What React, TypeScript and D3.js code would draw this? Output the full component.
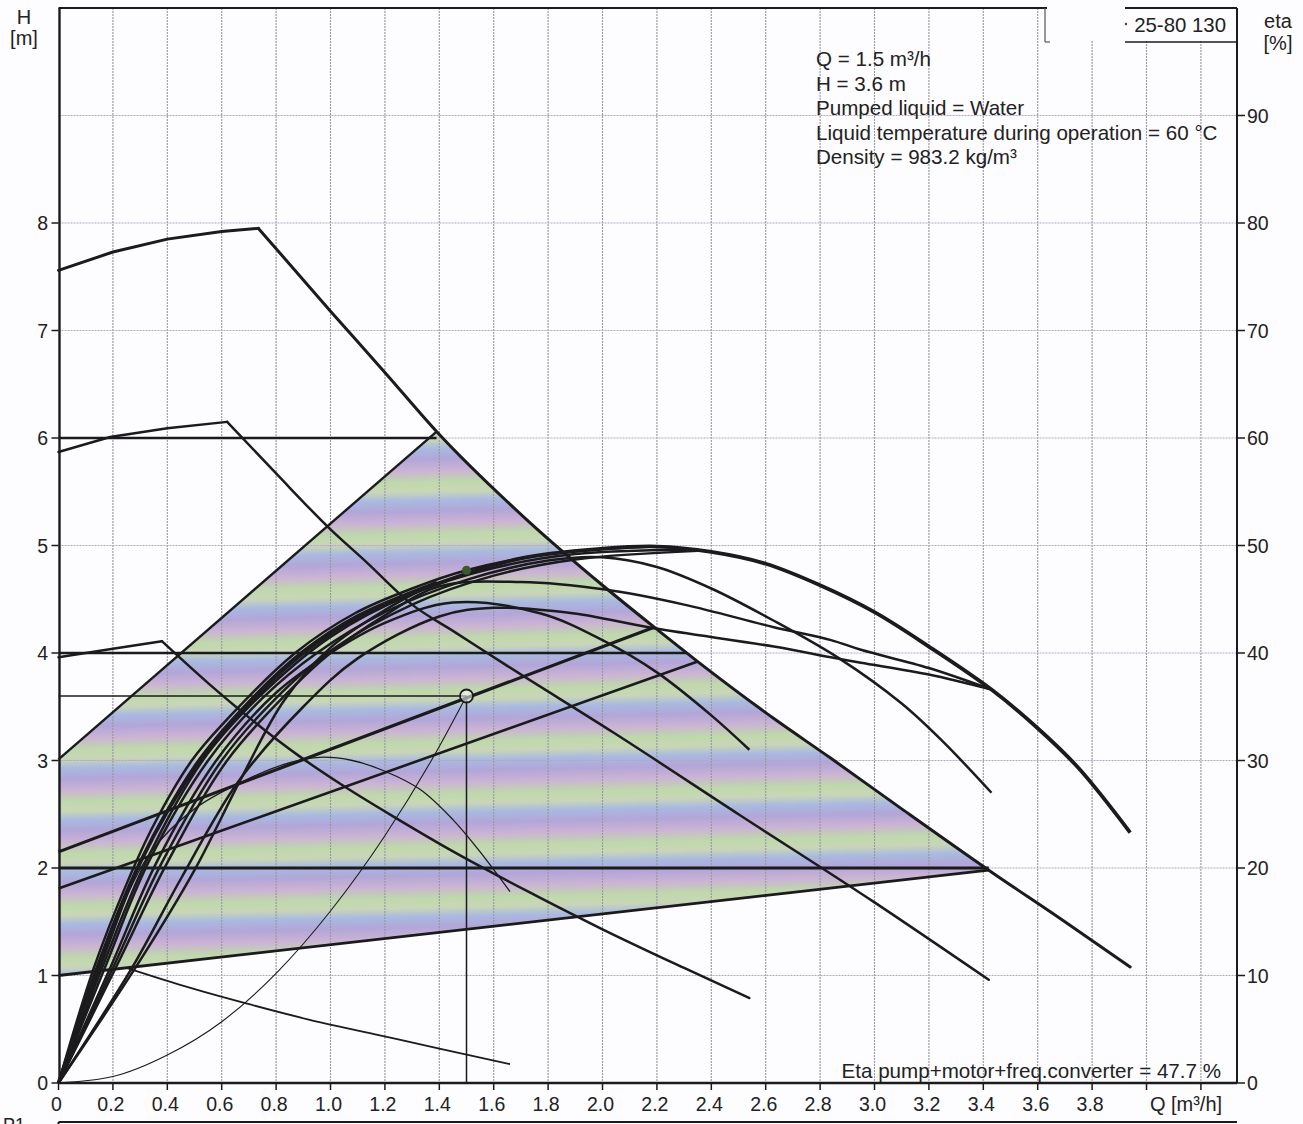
import React from "react";
import * as d3 from "d3";

type Pt = [number, number];

// axes
const qTicks = [0, 0.2, 0.4, 0.6, 0.8, 1.0, 1.2, 1.4, 1.6, 1.8, 2.0, 2.2, 2.4, 2.6, 2.8, 3.0, 3.2, 3.4, 3.6, 3.8];
const qGrid = [0.2, 0.4, 0.6, 0.8, 1.0, 1.2, 1.4, 1.6, 1.8, 2.0, 2.2, 2.4, 2.6, 2.8, 3.0, 3.2, 3.4, 3.6, 3.8, 4.0, 4.2];
const qExtraTicks = [4.0, 4.2];
const hTicks = [0, 1, 2, 3, 4, 5, 6, 7, 8];
const hGrid = [1, 2, 3, 4, 5, 6, 7, 8, 9];
const etaTicks = [0, 10, 20, 30, 40, 50, 60, 70, 80, 90];

const infoLines = [
  "Q = 1.5 m³/h",
  "H = 3.6 m",
  "Pumped liquid = Water",
  "Liquid temperature during operation = 60 °C",
  "Density = 983.2 kg/m³",
];

// QH curves [Q m3/h, H m] - rising part up to the kink, then falling part
const qhMaxRise: Pt[] = [[0, 7.56], [0.2, 7.73], [0.4, 7.85], [0.6, 7.92], [0.735, 7.95]];
const qhMaxFall: Pt[] = [[0.735, 7.95], [1.0, 7.18], [1.2, 6.61], [1.39, 6.06], [1.73, 5.22], [2.0, 4.63], [2.19, 4.24], [2.35, 3.92], [2.63, 3.39], [2.84, 3.02], [3.1, 2.55], [3.42, 1.98], [3.7, 1.5], [3.94, 1.08]];
const qhMidRise: Pt[] = [[0, 5.87], [0.19, 6.01], [0.4, 6.09], [0.62, 6.15]];
const qhMidFall: Pt[] = [[0.62, 6.15], [0.8, 5.67], [1.0, 5.15], [1.13, 4.85], [1.3, 4.45], [1.46, 4.19], [1.65, 3.88], [2.04, 3.26], [2.5, 2.5], [3.0, 1.68], [3.42, 0.96]];
const qhLowRise: Pt[] = [[0, 3.96], [0.2, 4.04], [0.38, 4.11]];
const qhLowFall: Pt[] = [[0.38, 4.11], [0.55, 3.72], [0.71, 3.38], [0.88, 3.05], [1.05, 2.76], [1.25, 2.45], [1.46, 2.14], [1.75, 1.75], [2.0, 1.43], [2.3, 1.07], [2.54, 0.79]];
const qhMin: Pt[] = [[0.25, 1.07], [0.45, 0.91], [0.69, 0.74], [0.92, 0.59], [1.16, 0.455], [1.4, 0.32], [1.66, 0.175]];
const systemCurve: Pt[] = [[0, 0], [0.2, 0.06], [0.4, 0.26], [0.6, 0.57], [0.8, 1.02], [1.0, 1.6], [1.2, 2.3], [1.4, 3.13], [1.5, 3.6]];

// constant / proportional pressure lines
const cp6: Pt[] = [[0, 6.0], [1.39, 6.0]];
const cp4: Pt[] = [[0, 4.0], [2.31, 4.0]];
const cp2: Pt[] = [[0, 2.0], [3.42, 2.0]];
const ppTop: Pt[] = [[0, 3.01], [1.39, 6.06]];
const ppMid: Pt[] = [[0, 2.15], [2.19, 4.24]];
const ppLow: Pt[] = [[0, 1.81], [2.35, 3.92]];
const ppBottom: Pt[] = [[0, 1.0], [3.42, 1.98]];

// efficiency curves [Q, eta %]
const etaMax: Pt[] = [[0, 0], [0.15, 10.7], [0.3, 20.5], [0.52, 30], [0.7, 35.3], [0.9, 40], [1.1, 43.3], [1.4, 46.5], [1.7, 48.8], [2.0, 49.7], [2.2, 49.9], [2.4, 49.4], [2.6, 48.3], [2.8, 46.3], [3.0, 43.8], [3.2, 40.6], [3.43, 36.6], [3.6, 33.0], [3.75, 29.3], [3.94, 23.3]];
const etaMid: Pt[] = [[0, 0], [0.17, 10.7], [0.33, 20.5], [0.55, 30], [0.75, 35.8], [0.95, 40], [1.2, 43.8], [1.5, 46.8], [1.8, 48.6], [2.0, 48.9], [2.2, 48], [2.4, 46], [2.63, 43], [2.87, 39.5], [3.1, 35.3], [3.25, 31.8], [3.43, 27]];
const etaLow: Pt[] = [[0, 0], [0.19, 10.7], [0.36, 20.5], [0.58, 30], [0.8, 36.3], [1.0, 40], [1.2, 42.8], [1.45, 44.7], [1.77, 43.7], [2.0, 41.2], [2.2, 38.2], [2.4, 34.2], [2.54, 31]];
const etaMin: Pt[] = [[0, 0], [0.1, 8], [0.2, 14.5], [0.34, 21.5], [0.5, 25.5], [0.69, 28.2], [0.85, 29.8], [0.96, 30.3], [1.08, 30], [1.2, 29], [1.33, 27.3], [1.45, 24.5], [1.55, 21.5], [1.66, 17.8]];
const etaCp2: Pt[] = [[0, 0], [0.21, 10.7], [0.4, 20.5], [0.62, 30], [0.85, 36.5], [1.0, 40], [1.2, 43.5], [1.4, 46.2], [1.7, 46.6], [2.01, 45.9], [2.3, 44.5], [2.63, 42.4], [2.84, 41.2], [2.95, 40.3], [3.2, 38.6], [3.43, 36.6]];
const etaPpBottom: Pt[] = [[0, 0], [0.27, 10.7], [0.45, 19], [0.66, 28], [0.9, 35], [1.1, 39.5], [1.4, 43.4], [1.6, 44.2], [1.89, 43.7], [2.19, 42.3], [2.63, 40.6], [2.84, 39.6], [2.95, 39.1], [3.2, 38], [3.43, 36.6]];
const etaCp4: Pt[] = [[0, 0], [0.16, 10.7], [0.32, 20.5], [0.53, 30], [0.72, 35.5], [1.0, 41.5], [1.3, 45.5], [1.6, 47.9], [1.9, 49.2], [2.31, 49.6]];
const etaPpLow: Pt[] = [[0, 0], [0.2, 10.7], [0.38, 20.5], [0.6, 30], [0.8, 35.8], [1.0, 40.2], [1.3, 44.5], [1.6, 47.2], [1.9, 48.7], [2.35, 49.5]];
const etaPpMid: Pt[] = [[0, 0], [0.13, 10.7], [0.25, 18.5], [0.35, 24], [0.49, 30], [0.6, 33.3], [0.87, 40], [1.09, 43.7], [1.3, 46], [1.5, 47.7], [1.8, 49.2], [2.19, 49.9]];
const etaCp6: Pt[] = [[0, 0], [0.3, 11.4], [0.5, 19.8], [0.675, 28.5], [0.83, 35.6], [1.0, 40.5], [1.2, 44], [1.39, 46.6]];
const etaPpTop: Pt[] = [[0, 0], [0.14, 10.7], [0.28, 19.5], [0.5, 29.5], [0.7, 35.5], [0.9, 40.2], [1.1, 43.5], [1.39, 46.6]];

const opQ = 1.5;
const opH = 3.6;
const opEta = 47.7;

const FONT = "'Liberation Sans', Arial, sans-serif";
const INK = "#1b1b1d";
const TXT = "#222";
const PAPER = "#fdfcfe";

export default function App() {
  const width = 1303;
  const height = 1124;
  const left = 58.5;
  const right = 1237;
  const top = 8;
  const bottom = 1083;

  const x = d3.scaleLinear().domain([0, (right - left) / 272]).range([left, right]);
  const y = d3.scaleLinear().domain([0, 10]).range([bottom, top]);
  const yEta = d3.scaleLinear().domain([0, 100]).range([bottom, top]);

  const lineH = d3.line<Pt>().x((d) => x(d[0])).y((d) => y(d[1]));
  const smoothH = d3.line<Pt>().x((d) => x(d[0])).y((d) => y(d[1])).curve(d3.curveMonotoneX);
  const lineEta = d3.line<Pt>().x((d) => x(d[0])).y((d) => yEta(d[1])).curve(d3.curveCatmullRom.alpha(0.5));

  // shaded operating area: upper PP line, max curve, lowest PP line
  const areaPts: Pt[] = [
    ppTop[0],
    ...qhMaxFall.filter((d) => d[0] >= ppTop[1][0] && d[0] <= ppBottom[1][0]),
    ppBottom[0],
  ];
  const areaPath = lineH(areaPts) + "Z";

  const qhCurves = [
    { rise: qhMaxRise, fall: qhMaxFall, w: 3 },
    { rise: qhMidRise, fall: qhMidFall, w: 2.5 },
    { rise: qhLowRise, fall: qhLowFall, w: 2.5 },
  ];
  const etaCurves = [etaPpBottom, etaCp2, etaLow, etaMid, etaPpLow, etaCp4, etaCp6, etaPpTop, etaPpMid];

  return (
    <svg
      width={width}
      height={height}
      style={{ position: "absolute", left: 0, top: 0, background: PAPER, fontFamily: FONT }}
    >
      <defs>
        <linearGradient id="bands" x1="0" y1="0" x2="0" y2="1">
          <stop offset="0" stopColor="#b2a6d8" />
          <stop offset="0.22" stopColor="#cbb3d4" />
          <stop offset="0.45" stopColor="#bfd9ab" />
          <stop offset="0.62" stopColor="#c9d6b8" />
          <stop offset="0.8" stopColor="#a9b9e0" />
          <stop offset="1" stopColor="#b2a6d8" />
        </linearGradient>
        <pattern id="moire" patternUnits="userSpaceOnUse" width={width} height={52} patternTransform="rotate(-1.2)">
          <rect width={width} height={52} fill="url(#bands)" />
        </pattern>
      </defs>

      <path d={areaPath} fill="url(#moire)" stroke="none" />

      {/* grid */}
      {qGrid.map((q) => (
        <line key={"vg" + q} x1={x(q)} x2={x(q)} y1={top} y2={bottom} stroke="#96969f" strokeWidth={1.1} strokeDasharray="2 1" />
      ))}
      {hGrid.map((h) => (
        <line key={"hg" + h} x1={left} x2={right} y1={y(h)} y2={y(h)} stroke="#b2a6c4" strokeWidth={1.1} strokeDasharray="2 1" />
      ))}

      {/* control lines */}
      <path d={lineH(cp6)!} fill="none" stroke={INK} strokeWidth={2.6} />
      <path d={lineH(cp4)!} fill="none" stroke={INK} strokeWidth={2.6} />
      <path d={lineH(cp2)!} fill="none" stroke={INK} strokeWidth={3.2} />
      <path d={lineH(ppTop)!} fill="none" stroke={INK} strokeWidth={2.4} />
      <path d={lineH(ppMid)!} fill="none" stroke={INK} strokeWidth={3.2} />
      <path d={lineH(ppLow)!} fill="none" stroke={INK} strokeWidth={2.6} />
      <path d={lineH(ppBottom)!} fill="none" stroke={INK} strokeWidth={2.8} />

      {/* QH curves */}
      {qhCurves.map((c, i) => (
        <g key={"qh" + i}>
          <path d={lineH(c.rise)!} fill="none" stroke={INK} strokeWidth={c.w} strokeLinecap="round" />
          <path d={smoothH(c.fall)!} fill="none" stroke={INK} strokeWidth={c.w} strokeLinecap="round" />
        </g>
      ))}
      <path d={smoothH(qhMin)!} fill="none" stroke={INK} strokeWidth={1.8} />
      <path d={smoothH(systemCurve)!} fill="none" stroke={INK} strokeWidth={1.1} />

      {/* efficiency curves */}
      <path d={lineEta(etaMin)!} fill="none" stroke={INK} strokeWidth={1.3} />
      {etaCurves.map((d, i) => (
        <path key={"e" + i} d={lineEta(d)!} fill="none" stroke={INK} strokeWidth={2.5} />
      ))}
      <path d={lineEta(etaMax)!} fill="none" stroke={INK} strokeWidth={3.8} />

      {/* duty point */}
      <line x1={left} x2={x(opQ)} y1={y(opH)} y2={y(opH)} stroke={INK} strokeWidth={1.6} />
      <line x1={x(opQ)} x2={x(opQ)} y1={y(opH)} y2={bottom} stroke={INK} strokeWidth={1.5} />
      <circle cx={x(opQ)} cy={y(opH)} r={6.5} fill="rgba(255,255,255,0.55)" stroke={INK} strokeWidth={1.8} />
      <circle cx={x(opQ)} cy={yEta(opEta)} r={4.5} fill="#3d5a2c" />

      {/* frame */}
      <line x1={left} x2={right} y1={top} y2={top} stroke={INK} strokeWidth={2} />
      <line x1={left + 1} x2={left + 1} y1={top} y2={bottom} stroke={INK} strokeWidth={2.4} />
      <line x1={right} x2={right} y1={top} y2={bottom} stroke={INK} strokeWidth={2} />
      <line x1={left} x2={right} y1={bottom} y2={bottom} stroke={INK} strokeWidth={2.6} />

      {/* left axis */}
      {hTicks.map((h) => (
        <g key={"ht" + h}>
          <line x1={left - 7} x2={left} y1={y(h)} y2={y(h)} stroke={INK} strokeWidth={1.5} />
          <text x={48} y={y(h) + 7} textAnchor="end" fontSize={19.5} fill={TXT}>{h}</text>
        </g>
      ))}
      <text x={24} y={24} textAnchor="middle" fontSize={20} fill={TXT}>H</text>
      <text x={24} y={45} textAnchor="middle" fontSize={20} fill={TXT}>[m]</text>

      {/* right axis */}
      {etaTicks.map((e) => (
        <g key={"rt" + e}>
          <line x1={right} x2={right + 8} y1={yEta(e)} y2={yEta(e)} stroke={INK} strokeWidth={1.5} />
          <text x={right + 10} y={yEta(e) + 7} textAnchor="start" fontSize={19.5} fill={TXT}>{e}</text>
        </g>
      ))}
      <text x={1278} y={28} textAnchor="middle" fontSize={20} fill={TXT}>eta</text>
      <text x={1278} y={50} textAnchor="middle" fontSize={20} fill={TXT}>[%]</text>

      {/* bottom axis */}
      {[...qTicks, ...qExtraTicks].map((q) => (
        <line key={"qt" + q} x1={x(q)} x2={x(q)} y1={bottom} y2={bottom + 7} stroke={INK} strokeWidth={1.5} />
      ))}
      {qTicks.map((q) => (
        <text key={"ql" + q} x={x(q) - 2} y={1111} textAnchor="middle" fontSize={19.5} fill={TXT}>
          {q === 0 ? "0" : q.toFixed(1)}
        </text>
      ))}
      <text x={1186} y={1111} textAnchor="middle" fontSize={20} fill={TXT}>Q [m³/h]</text>

      {/* info block */}
      {infoLines.map((t, i) => (
        <text key={"info" + i} x={816} y={66 + i * 24.5} fontSize={20.6} fill={TXT}>{t}</text>
      ))}
      <text x={1221} y={1078} textAnchor="end" fontSize={20.6} fill={TXT}>
        Eta pump+motor+freq.converter = 47.7 %
      </text>

      {/* title box */}
      <rect x={1047} y={0} width={189} height={41} fill={PAPER} />
      <line x1={1125} x2={right} y1={top} y2={top} stroke={INK} strokeWidth={2} />
      <line x1={1045} x2={1045} y1={top} y2={42} stroke="#555" strokeWidth={1.2} />
      <line x1={1045} x2={1050} y1={42} y2={42} stroke="#555" strokeWidth={1.2} />
      <line x1={1125} x2={right} y1={42} y2={42} stroke={INK} strokeWidth={1.5} />
      <circle cx={1126} cy={24} r={1.2} fill="#444" />
      <text x={1226} y={32} textAnchor="end" fontSize={20.4} fill={TXT}>25-80 130</text>

      {/* start of the power panel below */}
      <line x1={left} x2={right} y1={1122} y2={1122} stroke={INK} strokeWidth={2} />
      <line x1={left} x2={left} y1={1122} y2={1124} stroke={INK} strokeWidth={2} />
      <text x={3} y={1131} fontSize={18} fill={TXT}>P1</text>
    </svg>
  );
}
